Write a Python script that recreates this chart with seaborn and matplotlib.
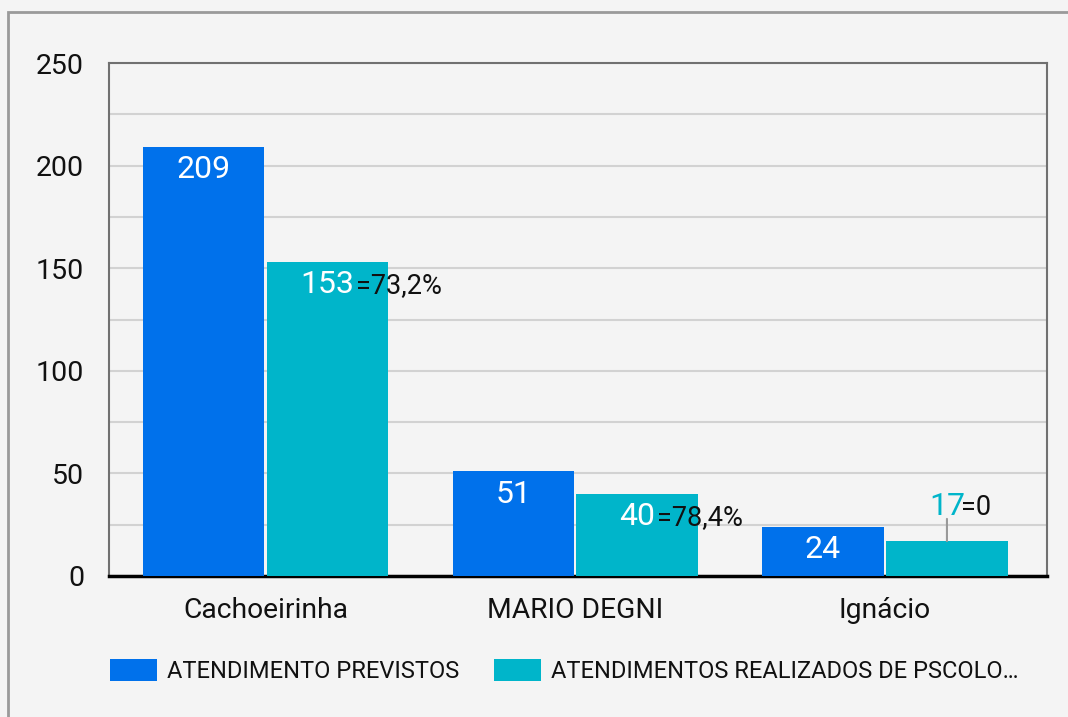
import matplotlib
matplotlib.use("Agg")
import matplotlib.pyplot as plt
import matplotlib.patches as mpatches
from matplotlib.ticker import MultipleLocator
import pandas as pd
import seaborn as sns

# Data
units = ["Cachoeirinha", "MARIO DEGNI", "Ignácio"]
series_names = ["ATENDIMENTO PREVISTOS", "ATENDIMENTOS REALIZADOS DE PSCOLO…"]
previstos = [209, 51, 24]
realizados = [153, 40, 17]
pct_labels = ["=73,2%", "=78,4%", "=0"]

colors = ["#0071EB", "#00B5CA"]
BG = "#F4F4F4"

df = pd.DataFrame({
    "unidade": units * 2,
    "serie": [series_names[0]] * len(units) + [series_names[1]] * len(units),
    "valor": previstos + realizados,
})

sns.set_theme(style="white")
plt.rcParams["font.family"] = ["Roboto", "DejaVu Sans"]

fig = plt.figure(figsize=(10.68, 7.17), dpi=100, facecolor=BG)
ax = fig.add_axes([109 / 1068, 141 / 717, 938 / 1068, 513 / 717])
ax.set_facecolor(BG)

# outer card border
fig.patches.append(mpatches.Rectangle((8 / 1068, -0.05), 1.2, (705 / 717) + 0.05,
                                      transform=fig.transFigure, fill=False,
                                      edgecolor="#9A9A9A", linewidth=2, zorder=0))

sns.barplot(data=df, x="unidade", y="valor", hue="serie", order=units,
            hue_order=series_names, palette=colors, width=0.8, gap=0.02,
            saturation=1, edgecolor="none", legend=False, ax=ax, zorder=3)

ax.set_xlim(-0.505, 2.523)
ax.set_ylim(0, 250)
ax.yaxis.set_major_locator(MultipleLocator(50))
ax.yaxis.set_minor_locator(MultipleLocator(25))
ax.grid(axis="y", which="both", color="#D2D2D2", linewidth=1.5, zorder=0)
ax.set_axisbelow(True)
ax.set_xlabel("")
ax.set_ylabel("")
ax.tick_params(axis="y", which="both", length=0, pad=18, labelsize=20.5, labelcolor="#111111")
ax.tick_params(axis="x", length=0, pad=15, labelsize=20.3, labelcolor="#111111")

for side in ["left", "top", "right"]:
    ax.spines[side].set_color("#707070")
    ax.spines[side].set_linewidth(1.5)
ax.spines["bottom"].set_color("#000000")
ax.spines["bottom"].set_linewidth(2.5)

# value labels
bars_prev = ax.containers[0]
bars_real = ax.containers[1]
for bar, v in zip(bars_prev, previstos):
    cx = bar.get_x() + bar.get_width() / 2
    ax.annotate(str(v), xy=(cx, bar.get_height()), xytext=(0, -22.5),
                textcoords="offset points", ha="center", va="baseline",
                fontsize=23, color="white", zorder=5)

for bar, v, pct in zip(bars_real, realizados, pct_labels):
    cx = bar.get_x() + bar.get_width() / 2
    top = bar.get_height()
    if v >= 20:
        vt = ax.annotate(str(v), xy=(cx, top), xytext=(0, -22.5),
                         textcoords="offset points", ha="center", va="baseline",
                         fontsize=23, color="white", zorder=5)
        dy = -22.5
        dx = 1.5
    else:
        ax.annotate("", xy=(cx, top), xytext=(0, 16), textcoords="offset points",
                    arrowprops=dict(arrowstyle="-", color="#999999", lw=1.5,
                                    shrinkA=0, shrinkB=0), zorder=4)
        vt = ax.annotate(str(v), xy=(cx, top), xytext=(0, 19),
                         textcoords="offset points", ha="center", va="baseline",
                         fontsize=23, color=colors[1], zorder=5)
        dy = 19
        dx = -2.5
    ax.annotate(pct, xy=(1, top), xycoords=(vt, "data"), xytext=(dx, dy),
                textcoords="offset points", ha="left", va="baseline",
                fontsize=19.5, color="#111111", zorder=6)

# legend
handles = [mpatches.Patch(facecolor=c, edgecolor="none", label=n)
           for c, n in zip(colors, series_names)]
fig.legend(handles=handles, loc="center left", bbox_to_anchor=(110 / 1068, 1 - 671 / 717),
           ncol=2, frameon=False, fontsize=17, handlelength=2.0, handleheight=1.1,
           handletextpad=0.42, columnspacing=1.45, borderpad=0, borderaxespad=0,
           labelcolor="#111111")

fig.savefig("out.png", dpi=100, facecolor=BG)
